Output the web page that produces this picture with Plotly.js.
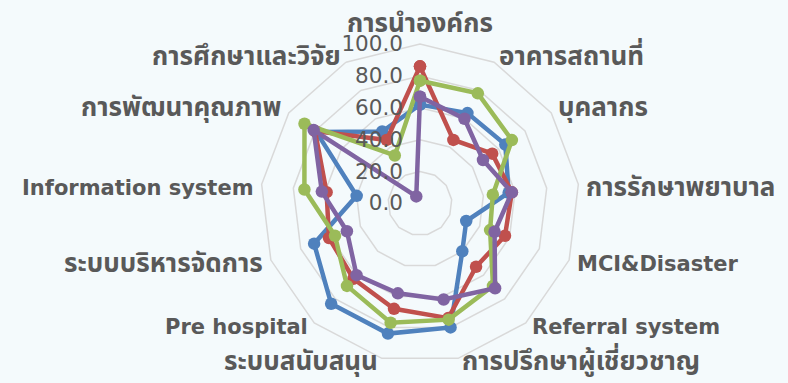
<!DOCTYPE html>
<html>
<head>
<meta charset="utf-8">
<script src="https://cdn.plot.ly/plotly-3.0.1.min.js"></script>
<style>
  html, body { margin: 0; padding: 0; background: #F4FAFC; }
  #chart { width: 788px; height: 383px; }
</style>
</head>
<body>
<div id="chart"></div>
<script>
// Assessment categories, clockwise from the top
const categories = [
  "การนำองค์กร", "อาคารสถานที่", "บุคลากร", "การรักษาพยาบาล",
  "MCI&Disaster", "Referral system", "การปรึกษาผู้เชี่ยวชาญ", "ระบบสนับสนุน",
  "Pre hospital", "ระบบบริหารจัดการ", "Information system", "การพัฒนาคุณภาพ",
  "การศึกษาและวิจัย"
];

// Scores per series (0-100)
const seriesBlue   = [62, 64, 65, 56, 31, 40, 80, 84, 84, 71, 40, 79, 51];
const seriesRed    = [86, 45, 55, 58, 57, 53, 74, 68, 63, 61, 59, 80, 45];
const seriesGreen  = [77, 78, 70, 46, 47, 69, 75, 77, 69, 57, 73, 88, 34];
const seriesPurple = [67, 60, 48, 58, 50, 71, 62, 58, 60, 49, 62, 81, 5];

const radialTicks = [0, 20, 40, 60, 80, 100];
const radialTickText = ["0.0", "20.0", "40.0", "60.0", "80.0", "100.0"];

const seriesList = [
  { name: "Series1", values: seriesBlue,   color: "#4F81BD" },
  { name: "Series2", values: seriesRed,    color: "#C0504D" },
  { name: "Series3", values: seriesGreen,  color: "#9BBB59" },
  { name: "Series4", values: seriesPurple, color: "#8064A2" }
];

// close each polygon by repeating the first point
const traces = seriesList.map(s => ({
  type: "scatterpolar",
  mode: "lines+markers",
  name: s.name,
  r: s.values.concat([s.values[0]]),
  theta: categories.concat([categories[0]]),
  line: { color: s.color, width: 4.5 },
  marker: { color: s.color, size: 12.5 },
  cliponaxis: false,
  hoverinfo: "skip"
}));

const W = 788, H = 383;
const cx = 420, cy = 203.5, R = 159.5;

// category labels sit just outside the outer ring, anchored by direction
const labelFont = "Tahoma, 'DejaVu Sans', sans-serif";
const thaiFont = "'Noto Sans Thai', 'Noto Sans Thai UI', Loma, Garuda, Tahoma, 'DejaVu Sans', sans-serif";
const annotations = categories.map((name, i) => {
  const a = (2 * Math.PI * i) / categories.length;
  const s = Math.sin(a), c = Math.cos(a);
  const vx = cx + R * s, vy = cy - R * c;
  const isThai = /[\u0E00-\u0E7F]/.test(name);
  let x = vx, y = vy, xanchor = "center", yanchor = "middle";
  if (Math.abs(s) < 0.05) {
    y = vy - 20;
  } else {
    x = vx + (s > 0 ? 1 : -1) * 6 * Math.abs(s);
    xanchor = s > 0 ? "left" : "right";
    y = vy + (c > 0.3 ? -5 : 4);
  }
  return {
    xref: "paper", yref: "paper",
    x: x / W, y: 1 - y / H,
    xanchor, yanchor,
    text: "<b>" + name + "</b>",
    showarrow: false,
    font: isThai
      ? { family: thaiFont, size: 26, color: "#595959", weight: 700 }
      : { family: labelFont, size: 21, color: "#595959", weight: 700 }
  };
});

const layout = {
  width: W,
  height: H,
  margin: { l: 0, r: 0, t: 0, b: 0 },
  paper_bgcolor: "#F4FAFC",
  plot_bgcolor: "#F4FAFC",
  showlegend: false,
  font: { family: labelFont, color: "#595959" },
  annotations,
  polar: {
    domain: {
      x: [(cx - R) / W, (cx + R) / W],
      y: [(H - cy - R) / H, (H - cy + R) / H]
    },
    bgcolor: "rgba(0,0,0,0)",
    gridshape: "linear",
    radialaxis: {
      range: [0, 100],
      tickvals: radialTicks,
      ticktext: radialTickText,
      angle: 90,
      tickangle: 90,
      side: "counterclockwise",
      showline: false,
      ticks: "outside",
      ticklen: 9,
      tickcolor: "rgba(0,0,0,0)",
      showgrid: true,
      gridcolor: "#D9D9D9",
      gridwidth: 1.5,
      tickfont: { size: 21.5, color: "#595959" }
    },
    angularaxis: {
      direction: "clockwise",
      rotation: 90,
      showgrid: false,
      showline: true,
      linecolor: "#D9D9D9",
      linewidth: 1.5,
      ticks: "",
      showticklabels: false
    }
  }
};

Plotly.newPlot("chart", traces, layout, { staticPlot: true, displayModeBar: false });
</script>
</body>
</html>
